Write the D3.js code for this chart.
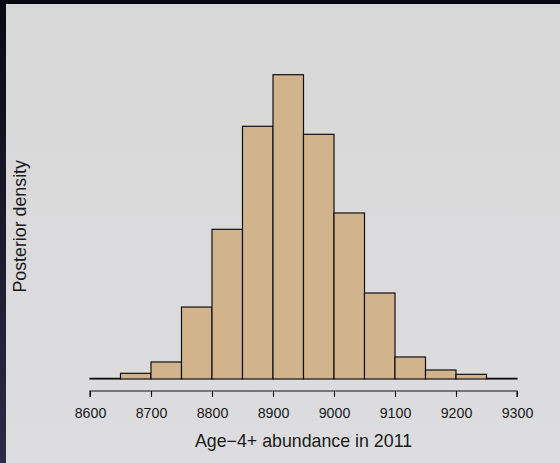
<!DOCTYPE html>
<html>
<head>
<meta charset="utf-8">
<script src="https://cdn.jsdelivr.net/npm/d3@7"></script>
<style>
  html, body { margin: 0; padding: 0; background: #0b0c14; }
  svg { display: block; }
</style>
</head>
<body>
<svg id="chart" width="560" height="463"></svg>
<script>
// Histogram bins (lower edges) and posterior density per bin (x 1e-3)
const binStarts = [8600, 8650, 8700, 8750, 8800, 8850, 8900, 8950, 9000, 9050, 9100, 9150, 9200, 9250];
const binWidth = 50;
const densityPerMille = [0.010, 0.085, 0.255, 1.078, 2.242, 3.785, 4.558, 3.665, 2.487, 1.288, 0.330, 0.135, 0.070, 0.010];
const xTicks = [8600, 8700, 8800, 8900, 9000, 9100, 9200, 9300];
const xTitle = "Age\u22124+ abundance in 2011";
const yTitle = "Posterior density";

const bins = binStarts.map((x0, i) => ({ x0, x1: x0 + binWidth, d: densityPerMille[i] / 1000 }));

const svg = d3.select("#chart");
const W = 560, H = 463;

// frame: dark border with a gradient panel
const defs = svg.append("defs");
const edge = defs.append("linearGradient").attr("id", "edge").attr("x1", 0).attr("y1", 0).attr("x2", 0).attr("y2", 1);
edge.append("stop").attr("offset", "0%").attr("stop-color", "#090a12");
edge.append("stop").attr("offset", "100%").attr("stop-color", "#2c2a46");
const panel = defs.append("linearGradient").attr("id", "panel").attr("x1", 0).attr("y1", 0).attr("x2", 0).attr("y2", 1);
panel.append("stop").attr("offset", "0%").attr("stop-color", "#d8d8d8");
panel.append("stop").attr("offset", "100%").attr("stop-color", "#dddde0");

svg.append("rect").attr("width", W).attr("height", H).attr("fill", "url(#edge)");
svg.append("rect").attr("x", 0).attr("y", 0).attr("width", W).attr("height", 4).attr("fill", "#080910");
svg.append("rect").attr("x", 6).attr("y", 4).attr("width", W - 6).attr("height", H - 4).attr("fill", "url(#panel)");

const x = d3.scaleLinear().domain([8600, 9300]).range([90, 517]);
const y = d3.scaleLinear().domain([0, d3.max(densityPerMille) / 1000]).range([379, 74.7]);

// bars
svg.append("g")
  .selectAll("rect")
  .data(bins)
  .join("rect")
  .attr("x", d => x(d.x0))
  .attr("y", d => y(d.d))
  .attr("width", d => x(d.x1) - x(d.x0))
  .attr("height", d => y(0) - y(d.d))
  .attr("fill", "#d2b48c")
  .attr("stroke", "#111")
  .attr("stroke-width", 1.2)
  .attr("shape-rendering", "geometricPrecision");

// x axis
const axis = d3.axisBottom(x).tickValues(xTicks).tickSize(6).tickPadding(11).tickFormat(d3.format("d"));
const gx = svg.append("g").attr("transform", "translate(0,391)").call(axis);
gx.select(".domain").attr("stroke", "#111").attr("stroke-width", 1.1)
  .attr("d", `M${x(8600)},6V0H${x(9300)}V6`);
gx.selectAll(".tick line").attr("stroke", "#111").attr("stroke-width", 1.1);
gx.selectAll(".tick text")
  .attr("fill", "#1a1a1a")
  .attr("font-family", "'Liberation Sans', Arial, Helvetica, sans-serif")
  .attr("font-size", 14.2);

// axis titles
svg.append("text")
  .attr("x", (x(8600) + x(9300)) / 2)
  .attr("y", 446.5)
  .attr("text-anchor", "middle")
  .attr("font-family", "'Liberation Sans', Arial, Helvetica, sans-serif")
  .attr("font-size", 17.8)
  .attr("fill", "#1a1a1a")
  .text(xTitle);

svg.append("text")
  .attr("transform", "translate(26,226.3) rotate(-90)")
  .attr("text-anchor", "middle")
  .attr("font-family", "'Liberation Sans', Arial, Helvetica, sans-serif")
  .attr("font-size", 17.8)
  .attr("fill", "#1a1a1a")
  .text(yTitle);
</script>
</body>
</html>
